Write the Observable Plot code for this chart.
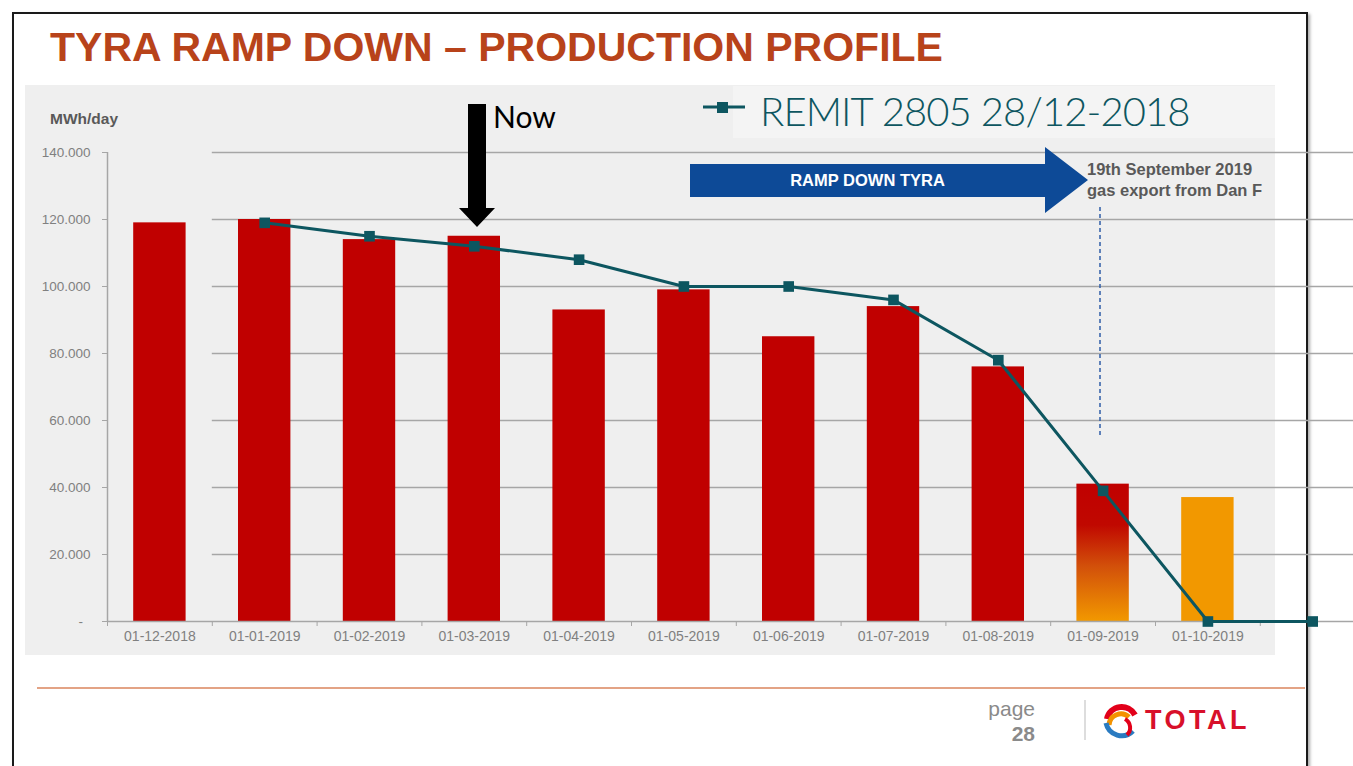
<!DOCTYPE html>
<html><head><meta charset="utf-8">
<script src="https://cdn.jsdelivr.net/npm/d3@7"></script>
<script src="https://cdn.jsdelivr.net/npm/@observablehq/plot@0.6"></script>
<style>
body{margin:0;width:1353px;height:766px;position:relative;overflow:hidden;background:#fff;font-family:"Liberation Sans",Arial,sans-serif;}
.abs{position:absolute;}
#chart svg{max-width:none;}
</style></head><body>
<div class="abs" style="left:12px;top:12px;width:1292px;height:800px;border:2px solid #1a1a1a;border-bottom:none;box-shadow:2px 2px 3px #aaa"></div>
<div class="abs" style="left:25px;top:85px;width:1250px;height:570px;background:#efefef"></div>
<div class="abs" style="left:733px;top:86px;width:542px;height:52px;background:#f4f4f4"></div>
<div class="abs" style="left:50px;top:24px;font-size:41px;font-weight:bold;letter-spacing:0px;color:#b8431a;white-space:nowrap">TYRA RAMP DOWN – PRODUCTION PROFILE</div>
<div class="abs" style="left:50px;top:110px;font-size:15.5px;font-weight:bold;color:#595959">MWh/day</div>
<div id="chart" class="abs" style="left:0;top:0"></div>
<svg class="abs" style="left:0;top:0" width="1353" height="766">
  <polygon points="468,104 486,104 486,208 495,208 477,227 459,208 468,208" fill="#000"/>
  <polygon points="690,164 1045,164 1045,147 1088,180 1045,213 1045,197 690,197" fill="#0d4a97"/>
  <line x1="1100" y1="207" x2="1100" y2="437" stroke="#2f5ea8" stroke-width="1.5" stroke-dasharray="4,3"/>
  <line x1="703" y1="107" x2="745" y2="107" stroke="#0d5660" stroke-width="3"/>
  <rect x="717" y="102" width="11" height="11" fill="#0d5660"/>
  <line x1="37" y1="688" x2="1305" y2="688" stroke="#e3a385" stroke-width="2"/>
  <line x1="1085" y1="700" x2="1085" y2="740" stroke="#bbb" stroke-width="1"/>
  <g transform="translate(1121,721)">
    <path d="M-14,-2 A15,15 0 0 1 14,-6" fill="none" stroke="#e2001a" stroke-width="6"/>
    <path d="M-12,4 A12,12 0 0 1 8,-4" fill="none" stroke="#f39200" stroke-width="5"/>
    <path d="M-15,2 A16,16 0 0 0 12,10" fill="none" stroke="#2a7bc1" stroke-width="5"/>
    <path d="M4,-2 A10,10 0 0 1 6,14" fill="none" stroke="#e2001a" stroke-width="4"/>
  </g>
</svg>
<div class="abs" style="left:493px;top:98px;font-family:Lato,sans-serif;font-size:30px;color:#000">Now</div>
<div class="abs" style="left:760px;top:87px;font-family:Lato,sans-serif;font-weight:300;font-size:40px;letter-spacing:-0.9px;color:#0d5660;white-space:nowrap">REMIT 2805 28/12-2018</div>
<div class="abs" style="left:690px;top:171px;width:355px;text-align:center;font-size:16.5px;font-weight:bold;color:#fff">RAMP DOWN TYRA</div>
<div class="abs" style="left:1087px;top:159px;font-size:16.5px;font-weight:bold;color:#595959;line-height:21px;white-space:nowrap">19th September 2019<br>gas export from Dan F</div>
<div class="abs" style="left:955px;top:696px;width:80px;text-align:right;font-size:21px;color:#8a8a8a;line-height:25px">page<br><b>28</b></div>
<div class="abs" style="left:1145px;top:705px;font-size:27px;font-weight:bold;color:#d8102a;letter-spacing:3.5px">TOTAL</div>
<script>
const months = ["01-12-2018","01-01-2019","01-02-2019","01-03-2019","01-04-2019","01-05-2019","01-06-2019","01-07-2019","01-08-2019","01-09-2019","01-10-2019"];
const production = [119000,120000,114000,115000,93000,99000,85000,94000,76000,41000,37000];
const phase = ["Tyra","Tyra","Tyra","Tyra","Tyra","Tyra","Tyra","Tyra","Tyra","Transition","Dan F"];
const remitMonths = ["01-01-2019","01-02-2019","01-03-2019","01-04-2019","01-05-2019","01-06-2019","01-07-2019","01-08-2019","01-09-2019","01-10-2019","01-11-2019"];
const remit = [119000,115000,112000,108000,100000,100000,96000,78000,39000,0,0];
const yTicks = [0,20000,40000,60000,80000,100000,120000,140000];

const allMonths = months.concat(remitMonths.filter(m => !months.includes(m)));
const idx = m => allMonths.indexOf(m);
const bars = months.map((m,i) => ({month:m, i:idx(m), value:production[i], phase:phase[i]}));
const line = remitMonths.map((m,i) => ({month:m, i:idx(m), value:remit[i]}));
const labelIdx = months.map(idx);
const bounds = months.map((m,i) => idx(m) - 0.5).concat([months.length - 0.5]);
const fmt = d => d === 0 ? "-\u2007" : d3.format(",")(d).replace(/,/g, ".");
const step = 104.8;
const half = 0.25;

const barMark = (p, fill) => Plot.rectY(bars.filter(d => d.phase === p), {x1: d => d.i - half, x2: d => d.i + half, y: "value", fill});

const chart = Plot.plot({
  width: 1353, height: 766,
  marginLeft: 107, marginRight: 0, marginTop: 152, marginBottom: 145,
  style: {background: "transparent", fontFamily: "'Liberation Sans', Arial, sans-serif", overflow: "hidden"},
  x: {type: "linear", domain: [-0.5, allMonths.length - 0.5], range: [107, 107 + allMonths.length * step], axis: null, label: null},
  y: {domain: [0, 140000], axis: null, label: null},
  marks: [
    Plot.ruleY(yTicks.filter(d => d > 0), {x1: 0.5, x2: allMonths.length + 1, stroke: "#a6a6a6", strokeWidth: 1.5}),
    Plot.ruleX([-0.5], {y1: 0, y2: 140000, stroke: "#a6a6a6", strokeWidth: 1.5}),
    Plot.axisY(yTicks, {anchor: "left", label: null, tickFormat: fmt, tickSize: 5, tickPadding: 12, fontSize: 13.5, fill: "#808080", stroke: "#a6a6a6"}),
    barMark("Tyra", "#c00000"),
    barMark("Transition", "url(#tyraGrad)"),
    barMark("Dan F", "#f29800"),
    Plot.ruleY([0], {x1: -0.5, x2: allMonths.length + 1, stroke: "#a6a6a6", strokeWidth: 1.5}),
    Plot.axisX(bounds, {anchor: "bottom", label: null, tickFormat: () => "", tickSize: 5, stroke: "#a6a6a6"}),
    Plot.axisX(labelIdx, {anchor: "bottom", label: null, tickFormat: i => allMonths[i], tickSize: 0, tickPadding: 10, fontSize: 14, fill: "#808080"}),
    Plot.line(line, {x: "i", y: "value", stroke: "#0d5660", strokeWidth: 3}),
    Plot.dot(line, {x: "i", y: "value", symbol: "square", r: 6, fill: "#0d5660"})
  ]
});
const defs = d3.select(chart).insert("defs", ":first-child");
const g = defs.append("linearGradient").attr("id", "tyraGrad").attr("x1", 0).attr("y1", 0).attr("x2", 0).attr("y2", 1);
[[0,"#c00000"],[0.3,"#c00800"],[0.6,"#d2500a"],[1,"#f29800"]].forEach(([o,c]) => g.append("stop").attr("offset", o).attr("stop-color", c));
document.getElementById("chart").appendChild(chart);
</script>
</body></html>
